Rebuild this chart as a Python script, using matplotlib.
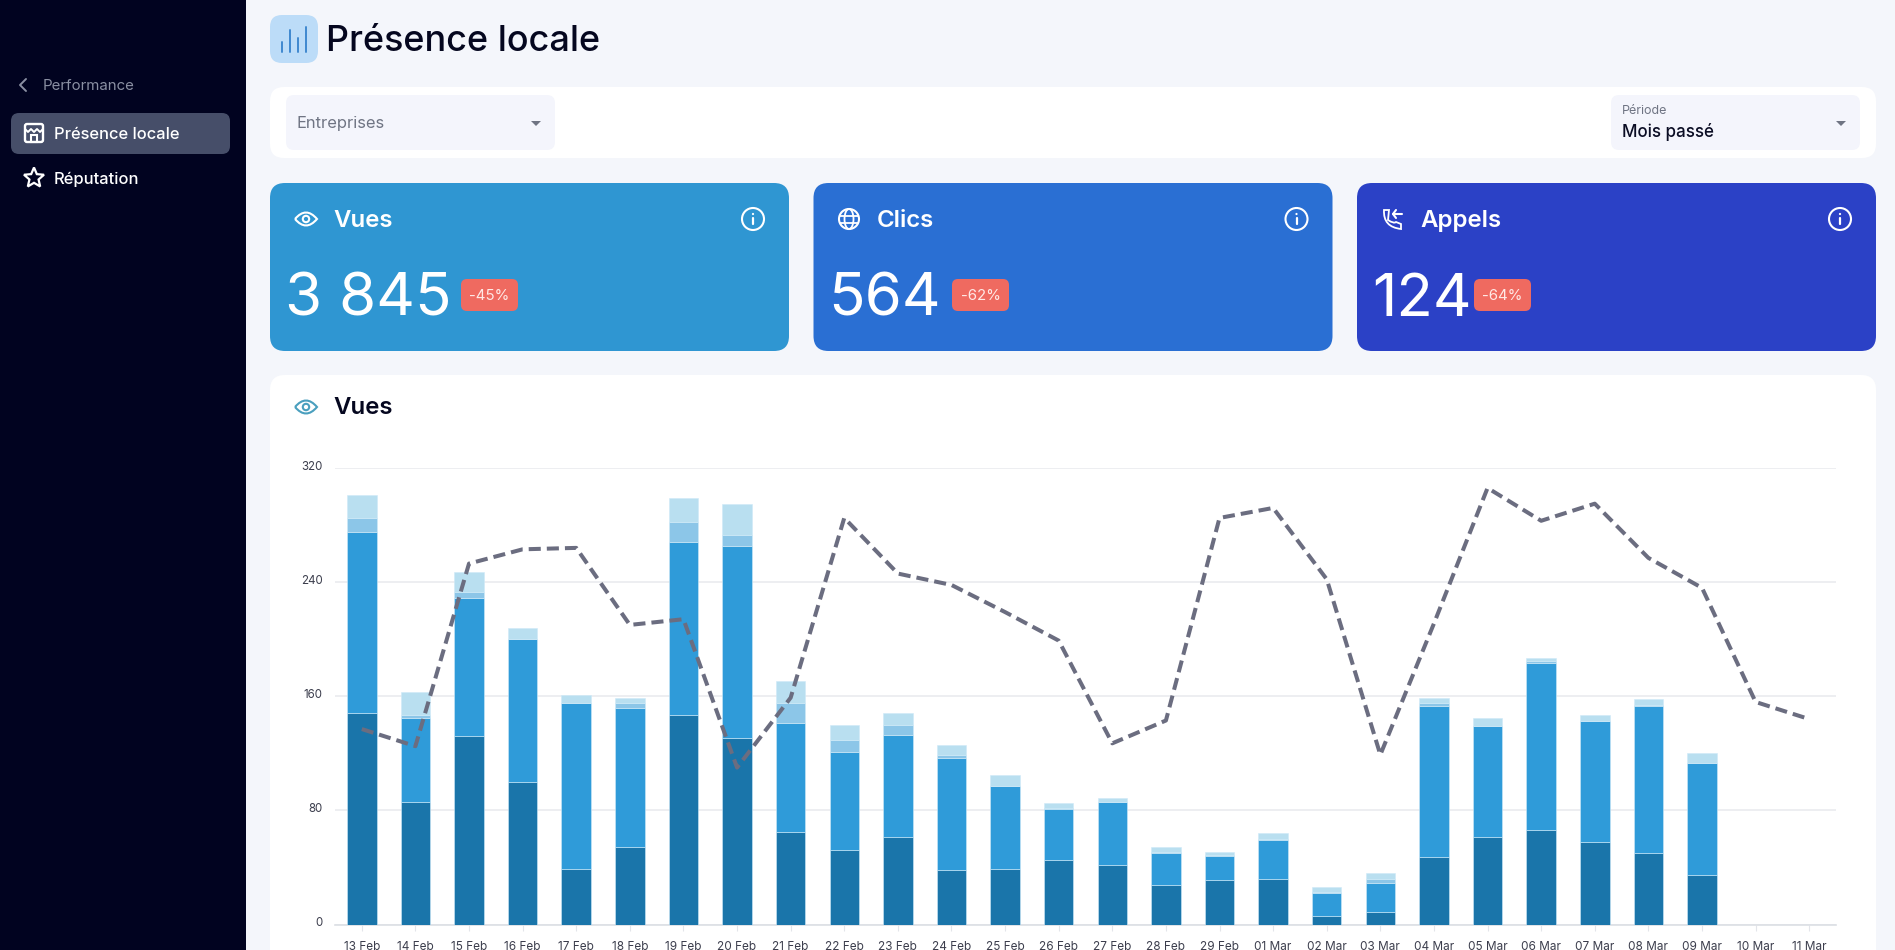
import matplotlib
matplotlib.use("Agg")
import matplotlib.pyplot as plt
from matplotlib.patches import FancyBboxPatch, Circle, Ellipse, PathPatch, Polygon
from matplotlib.path import Path
from matplotlib.transforms import ScaledTranslation
import numpy as np

plt.rcParams['font.family'] = ['Inter', 'DejaVu Sans']

jours = ['13 Feb', '14 Feb', '15 Feb', '16 Feb', '17 Feb', '18 Feb', '19 Feb', '20 Feb', '21 Feb',
         '22 Feb', '23 Feb', '24 Feb', '25 Feb', '26 Feb', '27 Feb', '28 Feb', '29 Feb', '01 Mar',
         '02 Mar', '03 Mar', '04 Mar', '05 Mar', '06 Mar', '07 Mar', '08 Mar', '09 Mar', '10 Mar', '11 Mar']

serie_a = [148, 86, 132, 100, 39, 54, 147, 131, 65, 52, 61, 38, 39, 45, 42, 28, 31, 32, 6, 9, 47, 61, 66, 58, 50, 35, 0, 0]
serie_b = [127, 59, 97, 100, 116, 98, 121, 134, 76, 69, 72, 79, 58, 36, 44, 22, 17, 27, 16, 20, 106, 78, 117, 85, 103, 78, 0, 0]
serie_c = [10, 2, 4, 0, 0, 3, 14, 8, 14, 8, 7, 2, 0, 1, 0, 1, 1, 1, 1, 3, 2, 0, 2, 0, 1, 0, 0, 0]
serie_d = [16, 16, 14, 8, 6, 4, 17, 22, 16, 11, 8, 7, 8, 3, 3, 3, 2, 4, 3, 4, 4, 6, 2, 4, 4, 7, 0, 0]
periode_passee = [137, 125, 253, 263, 264, 210, 214, 110, 159, 285, 246, 238, 219, 199, 127, 143, 285,
                  292, 242, 119, 211, 306, 283, 295, 257, 236, 156, 144]
ticks_y = [0, 80, 160, 240, 320]

cartes = [('Vues', '3 845', '-45%', '#2f96d2'),
          ('Clics', '564', '-62%', '#2a6fd3'),
          ('Appels', '124', '-64%', '#2b41c6')]

W, H = 1895, 950
fig = plt.figure(figsize=(W / 100, H / 100), dpi=100, facecolor='#f4f6fb')
fond = fig.add_axes([0, 0, 1, 1])
fond.set_xlim(0, W)
fond.set_ylim(H, 0)
fond.axis('off')


def boite(x0, y0, x1, y1, r, couleur, **kw):
    fond.add_patch(FancyBboxPatch((x0, y0), x1 - x0, y1 - y0, boxstyle=f'round,pad=0,rounding_size={r}',
                                  fc=couleur, ec='none', **kw))


def texte(x, y, s, px, couleur, poids='normal', ha='left'):
    # va center place le texte un peu trop haut, on compense
    fond.text(x, y + px * 0.1, s, fontsize=px / 1.389, color=couleur, fontweight=poids, ha=ha, va='center')


def trait(xs, ys, couleur, lw=1.5):
    fond.plot(xs, ys, color=couleur, lw=lw, solid_capstyle='round', solid_joinstyle='round')


def oeil(cx, cy, couleur):
    codes = [Path.MOVETO, Path.CURVE3, Path.CURVE3, Path.CURVE3, Path.CURVE3]
    pts = [(cx - 11, cy), (cx, cy - 13), (cx + 11, cy), (cx, cy + 13), (cx - 11, cy)]
    fond.add_patch(PathPatch(Path(pts, codes), fc='none', ec=couleur, lw=1.5))
    fond.add_patch(Circle((cx, cy), 3.2, fc='none', ec=couleur, lw=1.5))


def info(cx, cy):
    fond.add_patch(Circle((cx, cy), 11, fc='none', ec='white', lw=1.5))
    trait([cx, cx], [cy - 1, cy + 5], 'white', 1.6)
    fond.add_patch(Circle((cx, cy - 5), 1.1, fc='white', ec='none'))


def globe(cx, cy):
    fond.add_patch(Circle((cx, cy), 10, fc='none', ec='white', lw=1.5))
    fond.add_patch(Ellipse((cx, cy), 9, 20, fc='none', ec='white', lw=1.3))
    trait([cx - 9, cx + 9], [cy - 3.5, cy - 3.5], 'white', 1.3)
    trait([cx - 9, cx + 9], [cy + 3.5, cy + 3.5], 'white', 1.3)


def telephone(cx, cy):
    codes = [Path.MOVETO, Path.CURVE3, Path.CURVE3, Path.LINETO, Path.LINETO, Path.CURVE3, Path.CURVE3,
             Path.LINETO, Path.CLOSEPOLY]
    pts = [(cx - 8, cy - 9), (cx - 9, cy + 8), (cx + 9, cy + 10), (cx + 9, cy + 5), (cx + 4, cy + 3),
           (cx + 2, cy + 5), (cx - 4, cy + 1), (cx - 3, cy - 9), (cx - 8, cy - 9)]
    fond.add_patch(PathPatch(Path(pts, codes), fc='none', ec='white', lw=1.3))
    trait([cx + 1, cx + 10], [cy - 5, cy - 5], 'white', 1.5)
    trait([cx + 4, cx + 1, cx + 4], [cy - 9, cy - 5, cy - 1], 'white', 1.5)


# barre de gauche
fond.add_patch(plt.Rectangle((0, 0), 246, H, fc='#010320', ec='none'))
trait([26, 20, 26], [79, 85, 91], '#8b90a3', 1.4)
texte(43, 85, 'Performance', 15, '#8b90a3')
boite(11, 113, 230, 154, 8, '#464e69')
texte(54, 133, 'Présence locale', 16.5, 'white', 'medium')
texte(54, 178, 'Réputation', 16.5, 'white', 'medium')
# icone magasin
fond.add_patch(FancyBboxPatch((25, 124), 18, 18, boxstyle='round,pad=0,rounding_size=2', fc='none', ec='white', lw=1.7))
trait([25, 28, 31, 34, 37, 40, 43], [129, 132, 129, 132, 129, 132, 129], 'white', 1.4)
fond.add_patch(plt.Rectangle((31, 135), 6, 7, fc='none', ec='white', lw=1.5))
angles = np.linspace(-np.pi / 2, 3 * np.pi / 2, 11)[:-1]
etoile = [(34 + (10.5 if i % 2 == 0 else 4.8) * np.cos(a), 178 + (10.5 if i % 2 == 0 else 4.8) * np.sin(a))
          for i, a in enumerate(angles)]
fond.add_patch(Polygon(etoile, closed=True, fc='none', ec='white', lw=1.6))

# en-tete
boite(270, 15, 318, 63, 12, '#bcdcf8')
for bx, by in zip([282, 290, 298, 306], [42, 30, 38, 27]):
    trait([bx, bx], [by, 52], '#3f88cf', 1.4)
texte(326, 38, 'Présence locale', 36, '#05071f', 'medium')

# filtres
boite(270, 87, 1876, 158, 14, 'white')
boite(286, 95, 555, 150, 8, '#f4f5fc')
texte(297, 122, 'Entreprises', 16.5, '#6f7483')
fond.add_patch(Polygon([(531, 121), (541, 121), (536, 126)], fc='#6f7483', ec='none'))
boite(1611, 95, 1860, 150, 8, '#f4f5fc')
texte(1622, 109.5, 'Période', 12.5, '#6f7483')
texte(1622, 130, 'Mois passé', 17, '#0b0d24', 'medium')
fond.add_patch(Polygon([(1836, 121), (1846, 121), (1841, 126)], fc='#6f7483', ec='none'))

# cartes
for i, (nom, valeur, evol, couleur) in enumerate(cartes):
    x0 = 270 + i * 543.5
    boite(x0, 183, x0 + 519, 351, 15, couleur)
    texte(x0 + 63, 219, nom, 24, 'white', 'semibold')
    info(x0 + 483, 219)
largeurs_badge = [461, 952, 1474]
debuts_valeur = [285, 828, 1372]
for (nom, valeur, evol, couleur), bx, vx in zip(cartes, largeurs_badge, debuts_valeur):
    texte(vx, 294, valeur, 60, 'white')
    boite(bx, 279, bx + 57, 311, 6, '#ef6a60')
    texte(bx + 28.5, 294, evol, 15, '#ffe9e6', ha='center')
oeil(306, 219, 'white')
globe(849, 219)
telephone(1392, 219)

# carte du graphique
boite(270, 375, 1876, 1000, 15, 'white')
oeil(306, 407, '#4a9fbe')
texte(333, 406, 'Vues', 24, '#05071f', 'semibold')

ax = fig.add_axes([335 / W, 1 - 924.5 / H, (1836 - 335) / W, (924.5 - 468) / H])
ax.patch.set_alpha(0)
x = np.arange(len(jours))
bas = np.zeros(len(jours))
for serie, couleur in zip([serie_a, serie_b, serie_c, serie_d], ['#1a75aa', '#2f9bd9', '#8cc6e8', '#b9dff0']):
    ax.bar(x, serie, 0.55, bottom=bas, color=couleur, edgecolor='#cfeaf8', linewidth=0.4, zorder=3)
    bas = bas + np.array(serie)
ax.plot(x, periode_passee, color='#6b6d80', lw=2.9, dashes=(3.0, 1.5), zorder=4, clip_on=False)
ax.set_xlim(-0.5, 27.5)
ax.set_ylim(0, 320)
ax.set_xticks(x)
ax.set_xticklabels(jours, fontsize=8.5, color='#3c3e4d')
ax.set_yticks(ticks_y)
ax.set_yticklabels([str(t) for t in ticks_y], fontsize=8.3, color='#3c3e4d')
ax.tick_params(axis='x', length=4, color='#e3e5ea', width=0.8, pad=8)
ax.tick_params(axis='y', length=0, pad=9)
decalage = ScaledTranslation(0, 1.8 / 72, fig.dpi_scale_trans)
for lab in ax.get_yticklabels():
    lab.set_transform(lab.get_transform() + decalage)
ax.grid(axis='y', color='#e8eaee', lw=1.1, zorder=0)
for cote in ['top', 'right', 'left']:
    ax.spines[cote].set_visible(False)
ax.spines['bottom'].set_color('#dcdfe4')
ax.spines['bottom'].set_linewidth(1.2)

fig.savefig('out.png', dpi=100, facecolor=fig.get_facecolor())
